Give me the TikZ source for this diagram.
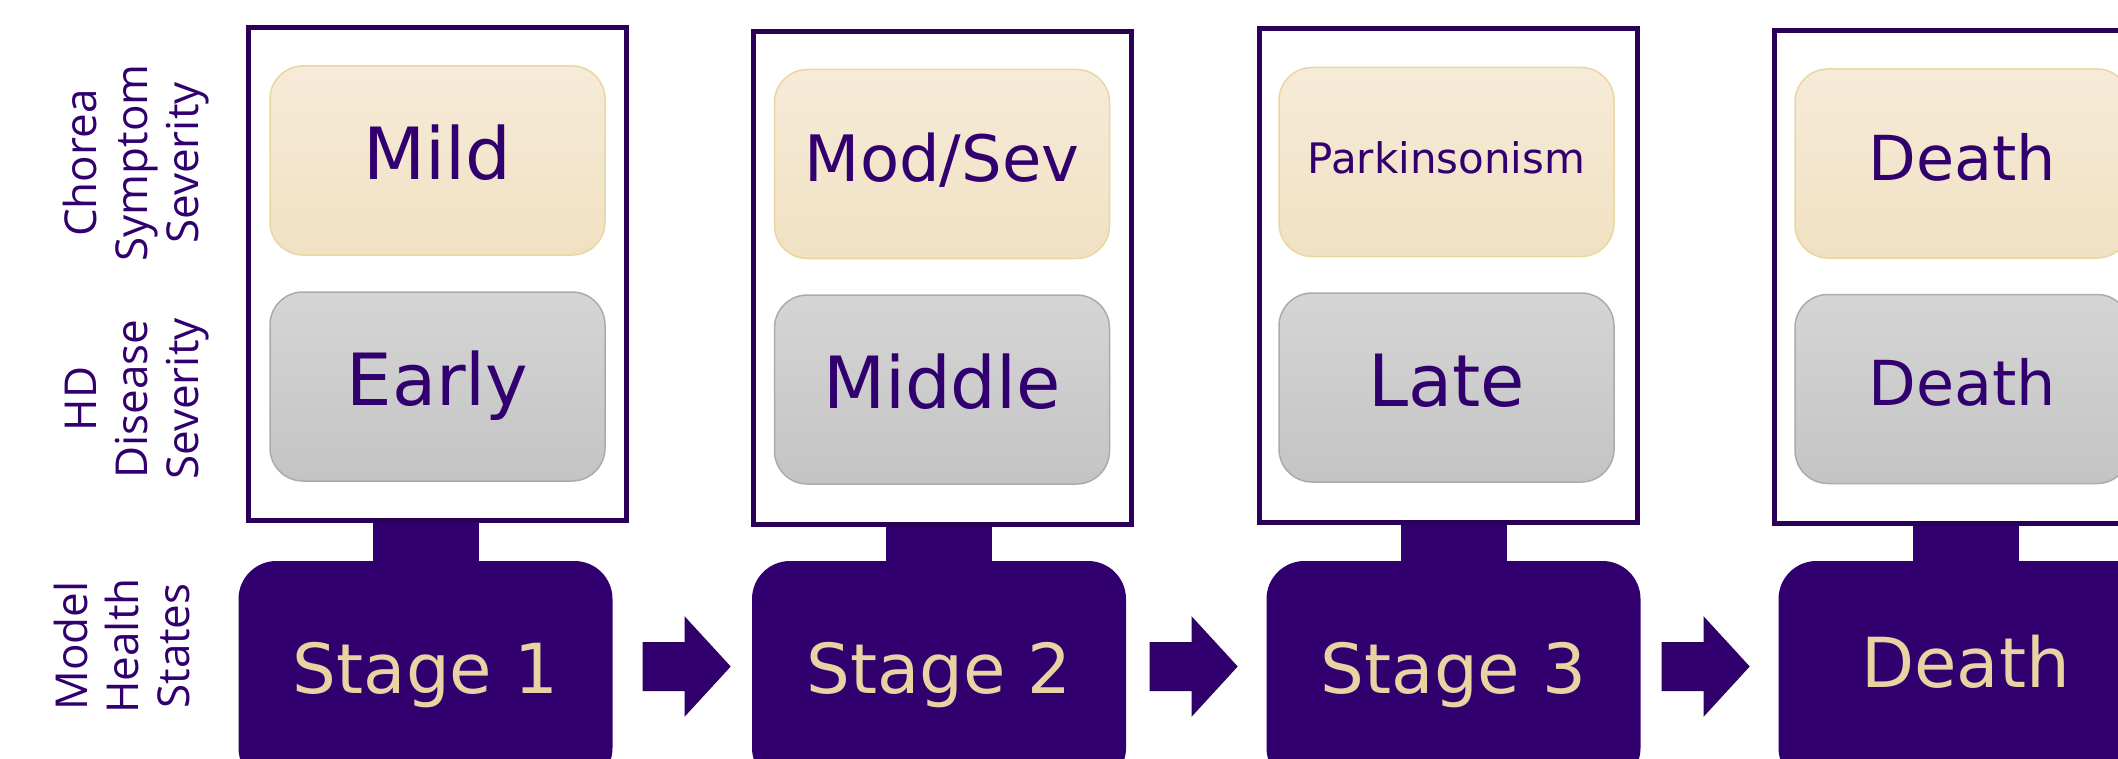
\documentclass[tikz,border=0pt]{standalone}
\usepackage{fontspec}
\setmainfont{DejaVu Sans}
\newfontfamily\sidefont{Open Sans}
\usetikzlibrary{calc}
\definecolor{hdpurple}{HTML}{32006E}
\definecolor{hdgold}{HTML}{E8D3A2}
\definecolor{choreatop}{HTML}{F6EBD8}
\definecolor{choreabot}{HTML}{F1E1C3}
\definecolor{choreaedge}{HTML}{EBD6A2}
\definecolor{greytop}{HTML}{D5D5D5}
\definecolor{greybot}{HTML}{C4C4C4}
\definecolor{greyedge}{HTML}{ABABAB}
\definecolor{frameline}{HTML}{2A0058}
\begin{document}
\begin{tikzpicture}[x=0.5pt,y=-0.5pt,
  hdframe/.style={draw=frameline, fill=white, line width=2.5pt, minimum width=189pt, minimum height=246.5pt, inner sep=0pt},
  innerbox/.style={rounded corners=16.5pt, line width=0.75pt, minimum width=167.5pt, minimum height=94.5pt, inner sep=0pt, text=hdpurple},
  chorea/.style={innerbox, top color=choreatop, bottom color=choreabot, draw=choreaedge},
  disease/.style={innerbox, top color=greytop, bottom color=greybot, draw=greyedge},
  txtbig/.style={font=\fontsize{36}{43}\selectfont, text height=30pt, text depth=10.6pt},
  txtmid/.style={font=\fontsize{32}{38}\selectfont, text height=30pt, text depth=12.7pt},
  txtdeath/.style={font=\fontsize{31}{37}\selectfont, text height=30pt, text depth=13.3pt},
  txtsmall/.style={font=\fontsize{21}{25}\selectfont, text height=30pt, text depth=18.7pt},
  stagebox/.style={fill=hdpurple, rounded corners=19pt, minimum width=187pt, minimum height=112.5pt, inner sep=0pt, text=hdgold, font=\fontsize{34.5}{41}\selectfont, text height=30pt, text depth=10.5pt},
  sidelabel/.style={rotate=90, align=center, text=hdpurple, inner sep=0pt, font=\sidefont\fontsize{22}{25.5}\selectfont},
  blockarrow/.style={fill=hdpurple, draw=frameline, line width=0.5pt},
  stem/.style={fill=hdpurple}
]
\path[use as bounding box] (0,0) rectangle (2118,759);
\clip (0,0) rectangle (2118,759);
\fill[white] (0,0) rectangle (2118,759);

% side labels
\node[sidelabel] (l1) at (136,163) {Chorea\\Symptom\\Severity};
\node[sidelabel] (l2) at (137,399) {HD\\Disease\\Severity};
\node[sidelabel] (l3) at (122,646) {Model\\Health\\States};

% stage boxes
\node[stagebox] (s1) at (425.5,673.5) {Stage 1};
\node[stagebox] (s2) at (939,673.5) {Stage 2};
\node[stagebox] (s3) at (1453.5,673.5) {Stage 3};
\node[stagebox, text depth=16.5pt] (s4) at (1965.5,673.5) {Death};

% frame positions
\coordinate (fp1) at (437.5,274);
\coordinate (fp2) at (942.5,278);
\coordinate (fp3) at (1448,275.5);
\coordinate (fp4) at (1963.5,277);

% stems
\foreach \i in {1,2,3,4} {
  \fill[stem] ($(s\i.north |- fp\i)+(-53,0)$) rectangle ($(s\i.north)+(53,10)$);
}

\node[hdframe] (f1) at (fp1) {};
\node[hdframe] (f2) at (fp2) {};
\node[hdframe] (f3) at (fp3) {};
\node[hdframe] (f4) at (fp4) {};

% inner boxes
\node[chorea, txtbig] (c1) at (437.5,160.5) {Mild};
\node[disease, txtbig] (d1) at (437.5,386.5) {Early};
\node[chorea, txtmid] (c2) at (942,164) {Mod/Sev};
\node[disease, txtbig] (d2) at (942,389.5) {Middle};
\node[chorea, txtsmall] (c3) at (1446.5,162) {Parkinsonism};
\node[disease, txtbig] (d3) at (1446.5,387.5) {Late};
\node[chorea, txtdeath] (c4) at (1962.5,163.5) {Death};
\node[disease, txtdeath] (d4) at (1962.5,389) {Death};

% block arrows
\coordinate (a1) at (643,666.5);
\coordinate (a2) at (1150,666.5);
\coordinate (a3) at (1662,666.5);
\foreach \i in {1,2,3} {
  \filldraw[blockarrow] (a\i) ++(0,-24) -- ++(42,0) -- ++(0,-25) -- ++(45,49)
    -- ++(-45,49) -- ++(0,-25) -- ++(-42,0) -- cycle;
}
\end{tikzpicture}
\end{document}
